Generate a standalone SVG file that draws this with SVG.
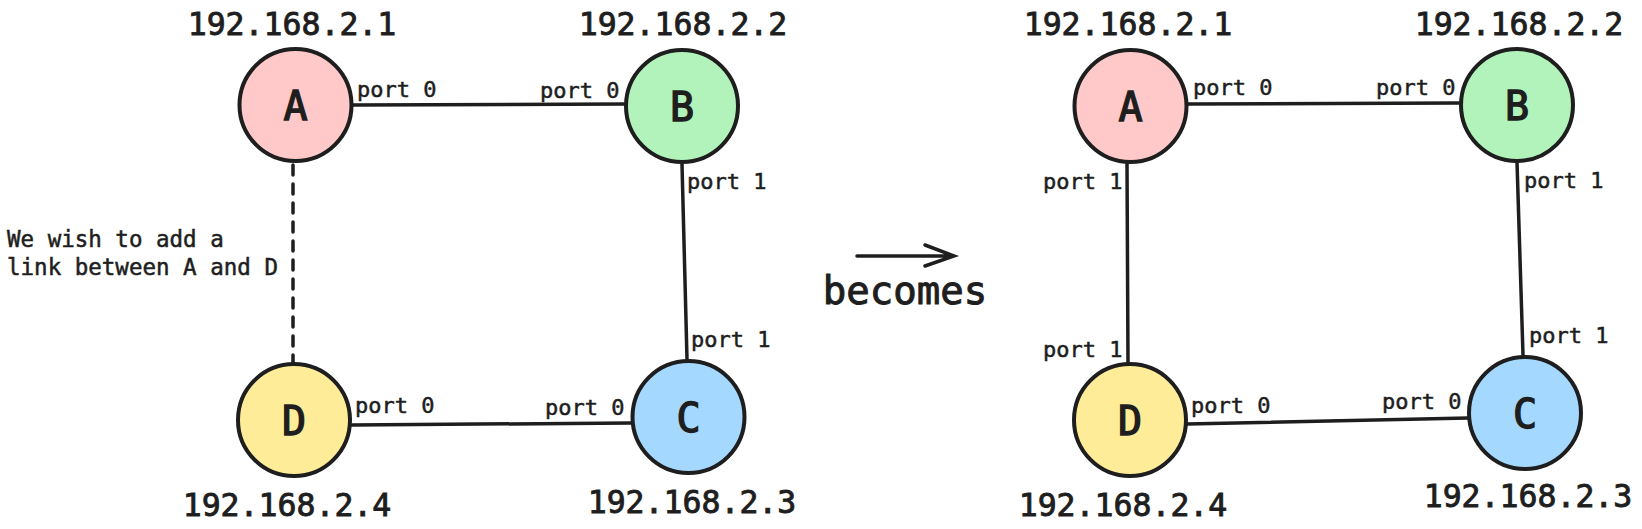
<svg xmlns="http://www.w3.org/2000/svg" width="1642" height="529" viewBox="0 0 1642 529">
<style>
.node{stroke:#1e1e1e;stroke-width:4}
text{font-family:"DejaVu Sans Mono",monospace;fill:#1e1e1e;stroke:#1e1e1e}
.lbl{font-size:40px;text-anchor:middle;stroke-width:1.4}
.ip{font-size:31.5px;text-anchor:middle;stroke-width:0.9}
.port{font-size:22px;stroke-width:0.5}
.note{font-size:22.5px;stroke-width:0.5}
.big{font-size:39px;text-anchor:middle;stroke-width:1}
.edge{stroke:#1e1e1e;stroke-width:3.5;fill:none;stroke-linecap:round}
</style>
<rect width="1642" height="529" fill="#ffffff"/>
<g id="connectors">
  <line class="edge" x1="353" y1="105" x2="624" y2="104"/>
  <line class="edge" x1="682" y1="164" x2="687" y2="359"/>
  <line class="edge" x1="352" y1="425" x2="631" y2="423"/>
  <line class="edge" x1="293" y1="165" x2="293" y2="362" stroke-dasharray="10 9" stroke-width="2.5" stroke-linecap="butt"/>
  <line class="edge" x1="1188" y1="104" x2="1459" y2="103"/>
  <line class="edge" x1="1517" y1="162" x2="1523" y2="355"/>
  <line class="edge" x1="1187" y1="424" x2="1468" y2="418"/>
  <line class="edge" x1="1127" y1="164" x2="1128" y2="363"/>
  <path class="edge" d="M857 256 L954 256 M925 245 L954 256 L925 266" stroke-width="3.2"/>
</g>
<g id="label-ports">
  <text class="port" x="357" y="97">port 0</text>
  <text class="port" x="540" y="98">port 0</text>
  <text class="port" x="687" y="189">port 1</text>
  <text class="port" x="691" y="347">port 1</text>
  <text class="port" x="355" y="413">port 0</text>
  <text class="port" x="545" y="415">port 0</text>
  <text class="port" x="1193" y="95">port 0</text>
  <text class="port" x="1376" y="95">port 0</text>
  <text class="port" x="1524" y="188">port 1</text>
  <text class="port" x="1529" y="343">port 1</text>
  <text class="port" x="1043" y="189">port 1</text>
  <text class="port" x="1043" y="357">port 1</text>
  <text class="port" x="1191" y="413">port 0</text>
  <text class="port" x="1382" y="409">port 0</text>
</g>
<g id="note">
  <text class="note" x="7" y="247">We wish to add a</text>
  <text class="note" x="7" y="275">link between A and D</text>
</g>
<g id="becomes">
  <text class="big" x="905" y="304">becomes</text>
</g>
<g id="left-A">
  <circle class="node" cx="295.5" cy="105" r="56" fill="#ffc9c9"/>
  <text class="lbl" x="295.5" y="120">A</text>
  <text class="ip" x="292" y="35">192.168.2.1</text>
</g>
<g id="left-B">
  <circle class="node" cx="682" cy="106" r="56" fill="#b2f2bb"/>
  <text class="lbl" x="682" y="121">B</text>
  <text class="ip" x="683" y="35">192.168.2.2</text>
</g>
<g id="left-C">
  <circle class="node" cx="688.5" cy="417" r="56" fill="#a5d8ff"/>
  <text class="lbl" x="688.5" y="432">C</text>
  <text class="ip" x="692" y="513">192.168.2.3</text>
</g>
<g id="left-D">
  <circle class="node" cx="294" cy="420" r="56" fill="#ffec99"/>
  <text class="lbl" x="294" y="435">D</text>
  <text class="ip" x="287" y="516">192.168.2.4</text>
</g>
<g id="right-A">
  <circle class="node" cx="1130.5" cy="106" r="56" fill="#ffc9c9"/>
  <text class="lbl" x="1130.5" y="121">A</text>
  <text class="ip" x="1128" y="35">192.168.2.1</text>
</g>
<g id="right-B">
  <circle class="node" cx="1517" cy="105" r="56" fill="#b2f2bb"/>
  <text class="lbl" x="1517" y="120">B</text>
  <text class="ip" x="1519" y="35">192.168.2.2</text>
</g>
<g id="right-C">
  <circle class="node" cx="1525" cy="413" r="56" fill="#a5d8ff"/>
  <text class="lbl" x="1525" y="428">C</text>
  <text class="ip" x="1528" y="507">192.168.2.3</text>
</g>
<g id="right-D">
  <circle class="node" cx="1130" cy="420" r="56" fill="#ffec99"/>
  <text class="lbl" x="1130" y="435">D</text>
  <text class="ip" x="1123" y="516">192.168.2.4</text>
</g>
</svg>
